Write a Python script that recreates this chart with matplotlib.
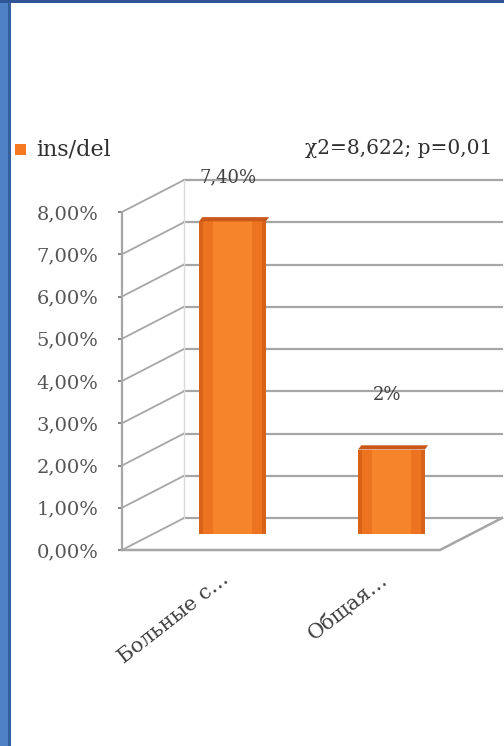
import matplotlib.pyplot as plt
from matplotlib.patches import Rectangle, Polygon
from matplotlib.transforms import ScaledTranslation

# data
categories = ['Больные с…', 'Общая…']
values = [7.40, 2.0]
value_labels = ['7,40%', '2%']
y_ticks = [0, 1, 2, 3, 4, 5, 6, 7, 8]
y_tick_labels = ['0,00%', '1,00%', '2,00%', '3,00%', '4,00%',
                 '5,00%', '6,00%', '7,00%', '8,00%']
series_name = 'ins/del'
stat_text = 'χ2=8,622; p=0,01'

# depth of the fake 3D box (data units)
DX = 0.39
DY = 0.757
GRID = '#a6a6a6'
FONT = 'DejaVu Serif'

fig = plt.figure(figsize=(5.04, 7.46), dpi=100)
fig.patch.set_facecolor('white')

# blue frame on the left / top
fig.add_artist(Rectangle((0, 0), 9 / 504, 1, transform=fig.transFigure,
                         facecolor='#4f81c7', edgecolor='none'))
fig.add_artist(Rectangle((8 / 504, 0), 3 / 504, 1, transform=fig.transFigure,
                         facecolor='#34609e', edgecolor='none'))
fig.add_artist(Rectangle((0, 1 - 3 / 746), 1, 3 / 746, transform=fig.transFigure,
                         facecolor='#2f5597', edgecolor='none'))

ax = fig.add_axes([122 / 504, (746 - 550) / 746, 318 / 504, 338 / 746])
ax.set_xlim(-0.5, 1.5)
ax.set_ylim(0, 8)
ax.patch.set_alpha(0)
for s in ['top', 'right', 'bottom']:
    ax.spines[s].set_visible(False)
ax.spines['left'].set_color(GRID)
ax.spines['left'].set_linewidth(1.6)

x0, x1 = ax.get_xlim()

# back wall gridlines and side wall diagonals
for v in y_ticks:
    ax.plot([x0 + DX, x1 + DX], [v + DY, v + DY], color=GRID, lw=1.6,
            clip_on=False, zorder=1)
    ax.plot([x0, x0 + DX], [v, v + DY], color=GRID, lw=1.3,
            clip_on=False, zorder=1)
ax.plot([x0 + DX, x0 + DX], [DY, 8 + DY], color='#dadada', lw=1.0,
        clip_on=False, zorder=1)

# floor edges
ax.plot([x0, x1, x1 + DX], [0, 0, DY], color=GRID, lw=1.8,
        clip_on=False, zorder=2)

# bars at half depth with simple shading
xs = list(range(len(values)))
bx = [x + DX / 2 for x in xs]
ax.bar(bx, values, width=0.42, bottom=DY / 2, color='#d9621a', zorder=3)
ax.bar(bx, values, width=0.37, bottom=DY / 2, color='#ec7420', zorder=3)
ax.bar(bx, values, width=0.25, bottom=DY / 2, color='#f5842a', zorder=3)
for x, v in zip(bx, values):
    top = v + DY / 2
    ax.add_patch(Polygon([(x - 0.21, top), (x + 0.21, top),
                          (x + 0.21 + 0.02, top + 0.1), (x - 0.21 + 0.02, top + 0.1)],
                         closed=True, facecolor='#c9581a', edgecolor='none',
                         zorder=4, clip_on=False))

# value labels
label_offsets = [44, 55]
for x, v, t, off in zip(bx, values, value_labels, label_offsets):
    ax.annotate(t, (x, v + DY / 2), xytext=(-4, off), textcoords='offset pixels',
                ha='center', va='center', fontsize=13, family=FONT,
                color='#404040', annotation_clip=False)

# axes ticks
ax.set_yticks(y_ticks)
ax.set_yticklabels(y_tick_labels, family=FONT, fontsize=14, color='#555555')
ax.tick_params(axis='y', length=3, width=1.2, color='#707070', pad=14)
ax.set_xticks(bx)
ax.set_xticklabels(categories, rotation=38, ha='right', va='top',
                   rotation_mode='anchor', family=FONT, fontsize=15, color='#404040')
ax.tick_params(axis='x', length=0, pad=14)
for lab in ax.get_xticklabels():
    lab.set_transform(lab.get_transform() + ScaledTranslation(-0.12, 0, fig.dpi_scale_trans))

# legend and statistic
fig.add_artist(Rectangle((15 / 504, 1 - 155 / 746), 11 / 504, 11 / 746,
                         transform=fig.transFigure, facecolor='#f47920',
                         edgecolor='none'))
fig.text(36 / 504, 1 - 149 / 746, series_name, ha='left', va='center',
         family=FONT, fontsize=16, color='#303030')
fig.text(492 / 504, 1 - 149 / 746, stat_text, ha='right', va='center',
         family=FONT, fontsize=14.5, color='#303030')

fig.savefig('out.png', dpi=100)
